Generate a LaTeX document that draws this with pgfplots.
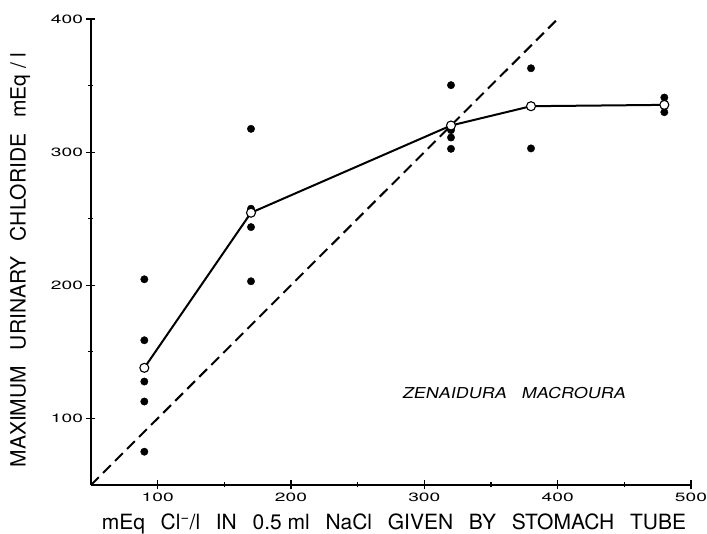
\documentclass[border=0pt]{standalone}
\usepackage{fontspec}
\setmainfont{TeX Gyre Heros}
\newfontfamily\namefont[FakeStretch=1.2,FakeSlant=0.2]{TeX Gyre Heros}
\usepackage{graphicx}
\usepackage{pgfplots}
\pgfplotsset{compat=1.18}
\newcommand\gap{\hspace{0.75em}}

% individual birds
\pgfplotstableread{
x y
90 204.5
90 158.7
90 127.7
90 112.7
90 75
170 317.5
170 257.5
170 243.7
170 203
320 350.3
320 316.5
320 311
320 302.5
380 363
380 302.8
480 341
480 330
}\birds

% means
\pgfplotstableread{
x y
90 138
170 254.5
320 320
380 334.5
480 335.5
}\means

\begin{document}
\begin{tikzpicture}
\path[use as bounding box] (-91pt,-49pt) rectangle (616pt,485pt);
\begin{axis}[
    at={(0pt,0pt)}, anchor=south west,
    scale only axis, width=600pt, height=466pt,
    xmin=50, xmax=500, ymin=50, ymax=400,
    axis lines=left, axis line style={-, line width=1.5pt},
    xtick={100,200,...,500}, ytick={100,200,...,400},
    minor xtick={150,250,350,450}, minor ytick={150,250,350},
    major tick length=9pt, minor tick length=5pt,
    every tick/.style={black, line width=1.2pt},
    /pgf/number format/assume math mode=true,
    tick label style={font=\fontsize{12}{12}\selectfont},
    xticklabel={\scalebox{1.6}[1]{\pgfmathprintnumber{\tick}}},
    yticklabel={\scalebox{1.6}[1]{\pgfmathprintnumber{\tick}}},
    xlabel={mEq\gap Cl\textsuperscript{−}/l\gap IN\gap 0.5 ml\gap NaCl\gap GIVEN\gap BY\gap STOMACH\gap TUBE},
    ylabel={MAXIMUM\gap URINARY\gap CHLORIDE\gap mEq / l},
    label style={font=\fontsize{21}{21}\selectfont},
    xlabel style={at={([yshift=-39pt]axis description cs:0.505,0)}, anchor=center},
    ylabel style={at={([xshift=-71pt]axis description cs:0,0.483)}, anchor=center},
    clip=false,
]
\addplot[black, line width=2pt, dash pattern=on 11pt off 6pt] coordinates {(50,50) (400,400)};
\addplot[black, line width=2pt] table[x=x,y=y] {\means};
\addplot[only marks, mark=*, mark size=3.7pt, mark options={fill=black, draw=black}] table[x=x,y=y] {\birds};
\addplot[only marks, mark=*, mark size=4.5pt, mark options={fill=white, draw=black, line width=1.1pt}] table[x=x,y=y] {\means};
\node[font=\namefont\fontsize{15}{15}\selectfont] at (axis cs:367,119) {ZENAIDURA\hspace{1em}MACROURA};
\end{axis}
\end{tikzpicture}
\end{document}
